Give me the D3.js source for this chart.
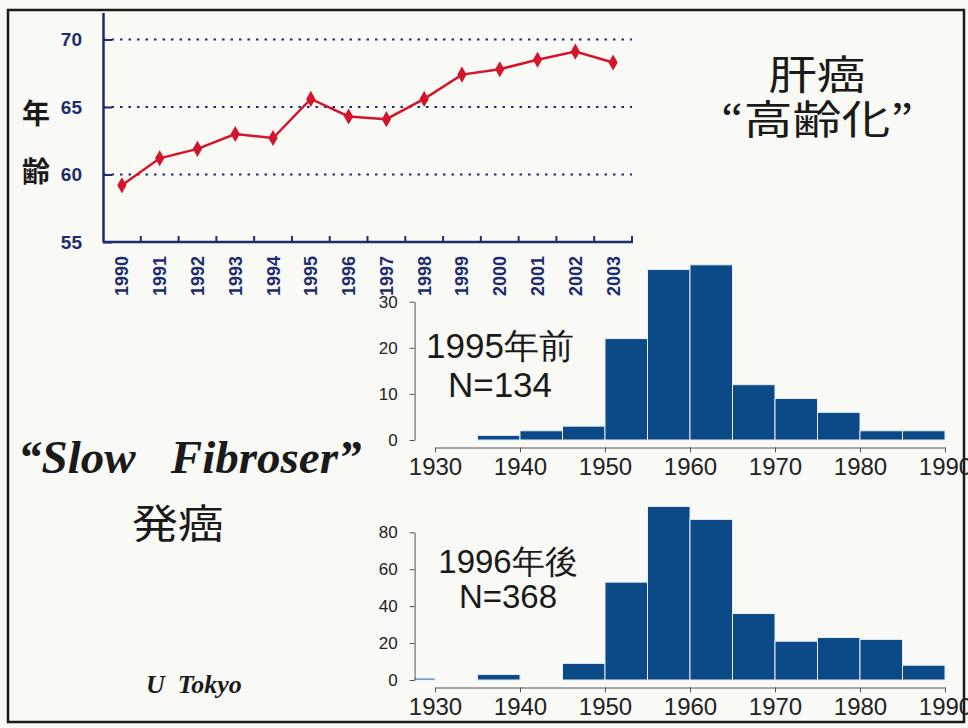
<!DOCTYPE html>
<html>
<head>
<meta charset="utf-8">
<script src="https://cdn.jsdelivr.net/npm/d3@7"></script>
<style>
    body { margin: 0; background: #f9f9f5; }
    svg { display: block; }
</style>
</head>
<body>
<svg id="chart" width="968" height="728"></svg>
<script>
// 肝癌 年齢推移 + 出生年ヒストグラム

const years = [1990, 1991, 1992, 1993, 1994, 1995, 1996, 1997, 1998, 1999, 2000, 2001, 2002, 2003];
const meanAge = [59.2, 61.2, 61.9, 63.0, 62.7, 65.6, 64.3, 64.1, 65.6, 67.4, 67.8, 68.5, 69.1, 68.3];
const ageTicks = [55, 60, 65, 70];
const ageGrid = [60, 65, 70];

// 5年ごとのビン（開始年）
const binStarts = [1925, 1930, 1935, 1940, 1945, 1950, 1955, 1960, 1965, 1970, 1975, 1980, 1985];
const countsBefore = [0, 0, 1, 2, 3, 22, 37, 38, 12, 9, 6, 2, 2];
const countsAfter = [1, 0, 3, 0, 9, 53, 94, 87, 36, 21, 23, 22, 8];
const decadeTicks = [1930, 1940, 1950, 1960, 1970, 1980, 1990];
const beforeTicks = [0, 10, 20, 30];
const afterTicks = [0, 20, 40, 60, 80];

const navy = "#1d2c6e";
const red = "#d3152b";
const barColor = "#0b4a87";
const sans = "'Liberation Sans', Arial, sans-serif";
const cjk = "'Noto Sans CJK JP', sans-serif";
const serif = "'Liberation Serif', 'Times New Roman', serif";

const svg = d3.select("#chart");

// 枠
svg.append("rect")
    .attr("x", 8).attr("y", 10).attr("width", 956).attr("height", 712)
    .attr("fill", "none").attr("stroke", "#1a1a1a").attr("stroke-width", 2.5);

// ---- 年齢の折れ線 ----

const xBand = d3.scaleBand().domain(years).range([103, 632]);
const yAge = d3.scaleLinear().domain([55, 72]).range([242, 12.5]);
const bw = xBand.bandwidth();

svg.append("g").selectAll("line").data(ageGrid).join("line")
    .attr("x1", 103).attr("x2", 632)
    .attr("y1", d => yAge(d)).attr("y2", d => yAge(d))
    .attr("stroke", navy).attr("stroke-width", 2)
    .attr("stroke-dasharray", "2.5,6");

const yAxis = svg.append("g")
    .attr("transform", "translate(103,0)")
    .call(d3.axisLeft(yAge).tickValues(ageTicks).tickSize(-9).tickSizeOuter(0).tickPadding(21));
yAxis.select(".domain").attr("stroke", navy).attr("stroke-width", 2.5);
yAxis.selectAll(".tick line").attr("stroke", navy).attr("stroke-width", 2);
yAxis.selectAll(".tick text")
    .attr("fill", navy).attr("font-family", sans).attr("font-weight", "bold").attr("font-size", 19);

// x 軸
svg.append("line")
    .attr("x1", 103).attr("x2", 633).attr("y1", 242).attr("y2", 242)
    .attr("stroke", navy).attr("stroke-width", 2.5);
svg.append("g").selectAll("line").data(years).join("line")
    .attr("x1", d => xBand(d) + bw).attr("x2", d => xBand(d) + bw)
    .attr("y1", 242).attr("y2", 236)
    .attr("stroke", navy).attr("stroke-width", 2);
svg.append("g").selectAll("text").data(years).join("text")
    .attr("transform", d => `translate(${xBand(d) + bw / 2},256) rotate(-90)`)
    .attr("dy", "0.36em")
    .attr("text-anchor", "end")
    .attr("fill", navy).attr("font-family", sans).attr("font-weight", "bold").attr("font-size", 18)
    .text(d => d);

const ageData = years.map((y, i) => ({ year: y, age: meanAge[i] }));
svg.append("path")
    .datum(ageData)
    .attr("fill", "none").attr("stroke", red).attr("stroke-width", 2.5)
    .attr("d", d3.line().x(d => xBand(d.year) + bw / 2).y(d => yAge(d.age)));
svg.append("g").selectAll("path").data(ageData).join("path")
    .attr("transform", d => `translate(${xBand(d.year) + bw / 2},${yAge(d.age)})`)
    .attr("d", d3.symbol(d3.symbolDiamond, 75))
    .attr("fill", red);

svg.append("text").attr("x", 36).attr("y", 124).attr("text-anchor", "middle")
    .attr("font-family", cjk).attr("font-weight", "bold").attr("font-size", 28).attr("fill", "#1a1a1a")
    .text("年");
svg.append("text").attr("x", 36).attr("y", 182).attr("text-anchor", "middle")
    .attr("font-family", cjk).attr("font-weight", "bold").attr("font-size", 28).attr("fill", "#1a1a1a")
    .text("齢");

// 見出し（少し横長）
const title = svg.append("text")
    .attr("transform", "translate(817,0) scale(1.22,1)")
    .attr("text-anchor", "middle")
    .attr("font-family", cjk).attr("font-size", 40).attr("fill", "#1a1a1a");
title.append("tspan").attr("x", 0).attr("y", 89).text("肝癌");
title.append("tspan").attr("x", 0).attr("y", 134).text("“高齢化”");

// ---- ヒストグラム ----

const xHist = d3.scaleLinear().domain([1930, 1990]).range([435, 945]);

svg.append("clipPath").attr("id", "histClip")
    .append("rect").attr("x", xHist(1927.6)).attr("y", 0).attr("width", 600).attr("height", 728);

function drawHist(counts, ticks, yMax, yZero, yMaxPx, axisY) {
    const y = d3.scaleLinear().domain([0, yMax]).range([yZero, yMaxPx]);
    const bins = binStarts.map((s, i) => ({ start: s, n: counts[i] })).filter(d => d.n > 0);

    svg.append("g").attr("clip-path", "url(#histClip)")
        .selectAll("rect").data(bins).join("rect")
        .attr("x", d => xHist(d.start)).attr("width", d => xHist(d.start + 5) - xHist(d.start))
        .attr("y", d => y(d.n)).attr("height", d => y(0) - y(d.n))
        .attr("fill", barColor).attr("stroke", "#e6eef6").attr("stroke-width", 1);

    const ya = svg.append("g")
        .attr("transform", `translate(${xHist(1927.6)},0)`)
        .call(d3.axisLeft(y).tickValues(ticks).tickSize(5).tickSizeOuter(0).tickPadding(12));
    ya.select(".domain").attr("stroke", "#555");
    ya.selectAll(".tick line").attr("stroke", "#555");
    ya.selectAll(".tick text").attr("fill", "#222").attr("font-family", sans).attr("font-size", 17);

    const xa = svg.append("g")
        .attr("transform", `translate(0,${axisY})`)
        .call(d3.axisBottom(xHist).tickValues(decadeTicks).tickFormat(d3.format("d"))
            .tickSize(5).tickSizeOuter(0).tickPadding(5));
    xa.select(".domain").attr("stroke", "#555");
    xa.selectAll(".tick line").attr("stroke", "#555");
    xa.selectAll(".tick text").attr("fill", "#222").attr("font-family", sans).attr("font-size", 24);
}

drawHist(countsBefore, beforeTicks, 30, 440, 301.7, 447.5);
drawHist(countsAfter, afterTicks, 80, 680, 532.3, 687.5);

function label(lines, x, y0, dy, size) {
    const t = svg.append("text").attr("text-anchor", "middle")
        .attr("font-family", sans).attr("font-size", size).attr("fill", "#1a1a1a");
    lines.forEach((s, i) => {
        t.append("tspan").attr("x", x).attr("y", y0 + i * dy).text(s);
    });
}
label(["1995年前", "N=134"], 500, 358, 39, 35);
label(["1996年後", "N=368"], 508, 573, 35, 33);

// ---- 左下の文字 ----

svg.append("text").attr("x", 18).attr("y", 473)
    .attr("font-family", serif).attr("font-style", "italic").attr("font-weight", "bold")
    .attr("font-size", 47).attr("fill", "#1a1a1a").style("white-space", "pre")
    .text("“Slow   Fibroser”");
svg.append("text")
    .attr("transform", "translate(178,538) scale(1.15,1)")
    .attr("text-anchor", "middle")
    .attr("font-family", cjk).attr("font-size", 40).attr("fill", "#1a1a1a")
    .text("発癌");
svg.append("text").attr("x", 146).attr("y", 693)
    .attr("font-family", serif).attr("font-style", "italic").attr("font-weight", "bold")
    .attr("font-size", 26).attr("fill", "#1a1a1a").style("white-space", "pre")
    .text("U  Tokyo");
</script>
</body>
</html>
